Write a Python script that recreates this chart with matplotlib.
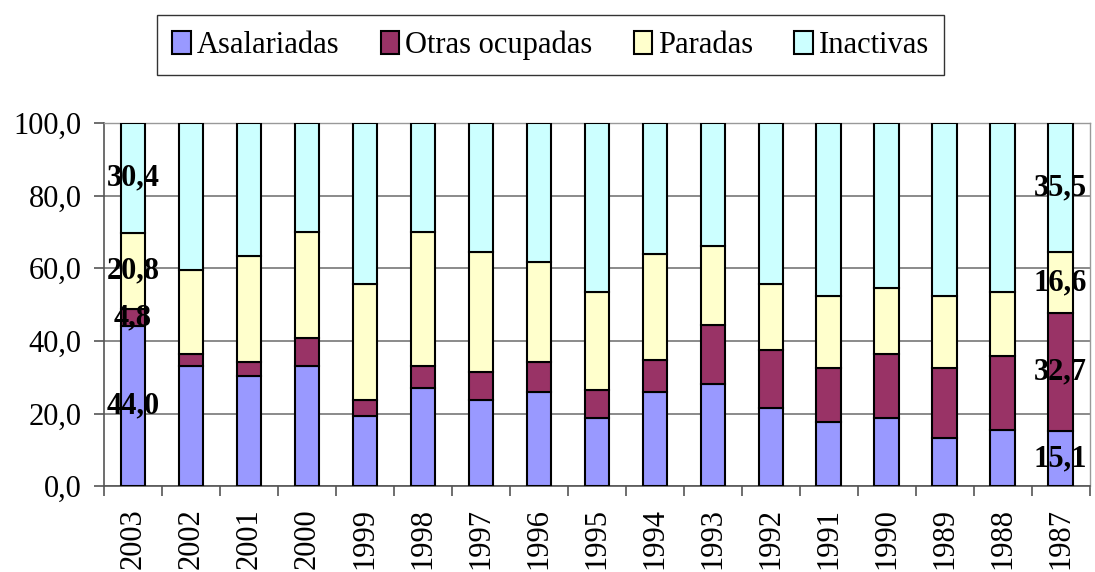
import matplotlib
matplotlib.use("Agg")
import matplotlib.pyplot as plt
import numpy as np

years = ["2003", "2002", "2001", "2000", "1999", "1998", "1997", "1996", "1995",
         "1994", "1993", "1992", "1991", "1990", "1989", "1988", "1987"]
asalariadas = [44.0, 33.0, 30.3, 33.0, 19.3, 26.9, 23.7, 26.0, 18.8, 26.0, 28.1,
               21.4, 17.7, 18.8, 13.3, 15.6, 15.1]
otras = [4.8, 3.4, 3.9, 7.9, 4.4, 6.2, 7.8, 8.2, 7.6, 8.7, 16.4, 16.1, 14.9,
         17.7, 19.2, 20.3, 32.7]
paradas = [20.8, 23.2, 29.2, 29.2, 32.1, 37.0, 33.0, 27.6, 27.1, 29.3, 21.6,
           18.2, 19.7, 18.1, 19.8, 17.6, 16.6]
inactivas = [30.4, 40.4, 36.6, 29.9, 44.2, 29.9, 35.5, 38.2, 46.5, 36.0, 33.9,
             44.3, 47.7, 45.4, 47.7, 46.5, 35.5]
series_names = ["Asalariadas", "Otras ocupadas", "Paradas", "Inactivas"]
colors = ["#9999FF", "#993366", "#FFFFCC", "#CCFFFF"]
yticks = [0, 20, 40, 60, 80, 100]

plt.rcParams['font.family'] = ['Liberation Serif', 'DejaVu Serif']

fig = plt.figure(figsize=(10.95, 5.72), dpi=100)
ax = fig.add_axes([0.095, 0.150, 0.900, 0.635])

x = np.arange(len(years))
data = [asalariadas, otras, paradas, inactivas]
bottom = np.zeros(len(years))
handles = []
for vals, name, c in zip(data, series_names, colors):
    vals = np.array(vals)
    b = ax.bar(x, vals, width=0.42, bottom=bottom, color=c, edgecolor="black",
               linewidth=1.5, label=name, zorder=3)
    handles.append(b)
    for i in (0, len(years) - 1):
        ax.text(x[i], bottom[i] + vals[i] / 2, f"{vals[i]:.1f}".replace(".", ","),
                ha="center", va="center", fontsize=22, fontweight="bold", zorder=5)
    bottom = bottom + vals

ax.set_xlim(-0.5, len(years) - 0.5)
ax.set_ylim(0, 100)
ax.set_yticks(yticks)
ax.set_yticklabels([f"{v:.1f}".replace(".", ",") for v in yticks], fontsize=22)
ax.set_xticks(x)
ax.set_xticklabels(years, rotation=90, fontsize=22)
ax.tick_params(axis="x", which="major", length=0, pad=16)
ax.set_xticks(np.arange(-0.5, len(years), 1), minor=True)
ax.tick_params(axis="x", which="minor", length=7, width=1.2, color="#555555")
ax.tick_params(axis="y", length=7, width=1.2, color="#555555", pad=9)
ax.yaxis.grid(True, color="#777777", linewidth=1.2, zorder=0)
ax.set_axisbelow(True)
for s in ["top", "right"]:
    ax.spines[s].set_color("#999999")
    ax.spines[s].set_linewidth(1.0)
for s in ["left", "bottom"]:
    ax.spines[s].set_color("#555555")
    ax.spines[s].set_linewidth(1.2)

leg = fig.legend(handles=handles, labels=series_names, loc="center",
                 bbox_to_anchor=(0.503, 0.921), ncol=4, fontsize=22,
                 frameon=True, fancybox=False, edgecolor="black",
                 handlelength=0.6, handleheight=0.8, handletextpad=0.2,
                 columnspacing=1.35, borderpad=0.5)
leg.get_frame().set_linewidth(1.0)

fig.savefig("out.png", dpi=100)
